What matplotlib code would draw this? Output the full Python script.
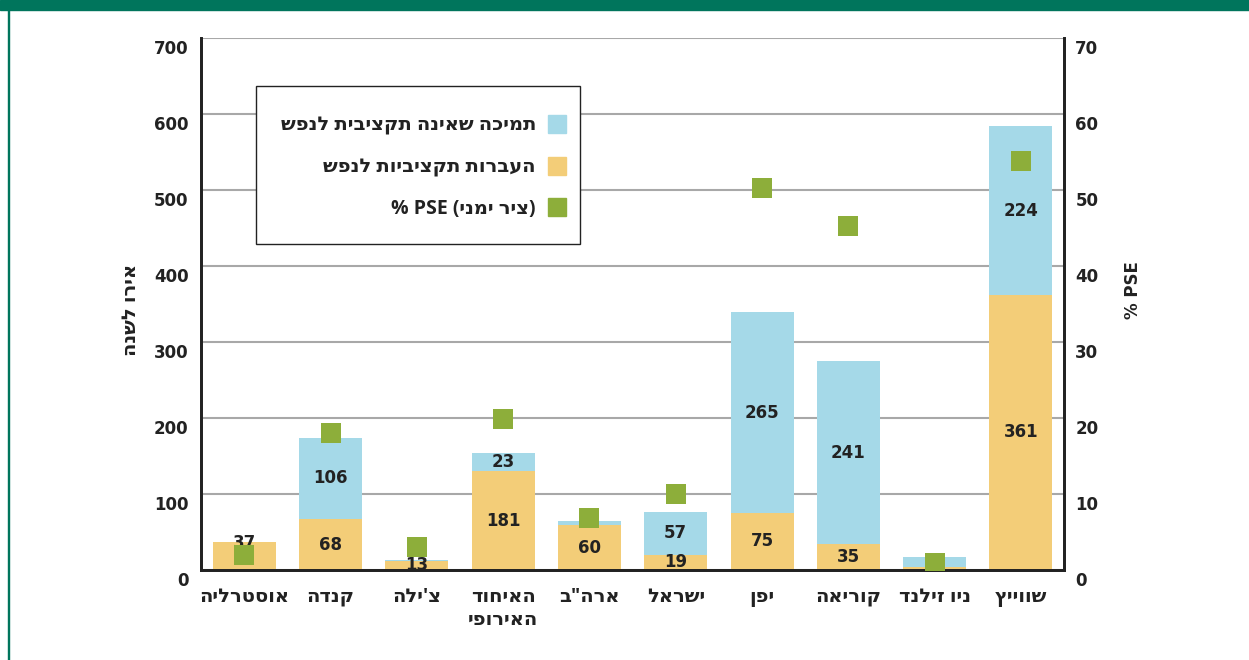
import matplotlib.pyplot as plt
import matplotlib.transforms as mtransforms
from matplotlib.lines import Line2D
from matplotlib.patches import Rectangle
import numpy as np


def heb(s):
    # matplotlib has no bidi support, so write hebrew in visual order
    return s[::-1]


countries = ['אוסטרליה', 'קנדה', "צ'ילה", 'האיחוד\nהאירופי', 'ארה"ב',
             'ישראל', 'יפן', 'קוריאה', 'ניו זילנד', 'שווייץ']
transfers = [37, 67, 12, 130, 59, 20, 75, 34, 4, 362]        # yellow
support = [0, 107, 1, 24, 5, 56, 264, 241, 13, 222]          # blue
pse = [2.0, 18.0, 3.0, 19.9, 6.8, 10.0, 50.2, 45.2, 0.9, 53.8]
bottom_labels = ['37', '68', '13', '181', '60', '19', '75', '35', '', '361']
top_labels = ['', '106', '', '23', '4', '57', '265', '241', '', '224']

yellow = '#F3CD78'
blue = '#A5D9E8'
green = '#8DAE3A'
num_font = ['DejaVu Sans']
heb_font = ['Open Sans', 'DejaVu Sans']

fig = plt.figure(figsize=(12.49, 6.6), dpi=100)
ax = fig.add_axes([0.161, 0.1364, 0.691, 0.806])
ax2 = ax.twinx()

x = np.arange(len(countries))
ax.bar(x, transfers, width=0.73, color=yellow, zorder=2)
ax.bar(x, support, width=0.73, bottom=transfers, color=blue, zorder=2)

for i in range(len(countries)):
    if bottom_labels[i]:
        yb = transfers[i] / 2
        if i == 0:
            yb = transfers[i] - 2
        ax.text(x[i], yb, bottom_labels[i], ha='center', va='center',
                fontsize=12, fontweight='bold', color='#222222',
                family=num_font, zorder=3)
    if top_labels[i]:
        ax.text(x[i], transfers[i] + support[i] / 2, top_labels[i],
                ha='center', va='center', fontsize=12, fontweight='bold',
                color='#222222', family=num_font, zorder=3)

ax2.scatter(x, pse, marker='s', s=200, color=green, zorder=4, linewidths=0)

ax.set_xlim(-0.5, len(countries) - 0.5)
ax.set_ylim(0, 700)
ax2.set_ylim(0, 70)
ax.set_yticks(np.arange(0, 701, 100))
ax2.set_yticks(np.arange(0, 71, 10))
ax.yaxis.grid(True, color='#a8a8a8', lw=1.5, zorder=0)
ax.set_axisbelow(True)

ax.set_xticks(x)
ax.set_xticklabels(['\n'.join(heb(p) for p in c.split('\n')) for c in countries],
                   fontsize=14, fontweight='bold', family=heb_font,
                   color='#222222', linespacing=1.2)
ax.tick_params(axis='x', length=0, pad=12)
ax.tick_params(axis='y', length=0, pad=9)
ax2.tick_params(axis='y', length=0, pad=8)
for lab in ax.get_yticklabels() + ax2.get_yticklabels():
    lab.set_fontsize(12)
    lab.set_fontweight('bold')
    lab.set_color('#222222')
    lab.set_family(num_font)
    lab.set_transform(lab.get_transform() +
                      mtransforms.ScaledTranslation(0, -9 / 100, fig.dpi_scale_trans))

for a in (ax, ax2):
    a.spines['top'].set_visible(False)
    for s in ('left', 'right', 'bottom'):
        a.spines[s].set_linewidth(2)
        a.spines[s].set_color('#222222')

fig.text(0.105, 0.53, heb('אירו לשנה'), rotation=90, ha='center', va='center',
         fontsize=14, fontweight='bold', family=heb_font, color='#222222')
fig.text(0.907, 0.56, '% PSE', rotation=90, ha='center', va='center',
         fontsize=12, fontweight='bold', family=num_font, color='#222222')

# legend: frame drawn separately so the padding can be uneven like the original
ax2.add_patch(Rectangle((0.0637, 0.6128), 0.3755, 0.297, transform=ax2.transAxes,
                        facecolor='white', edgecolor='#222222', lw=1.0, zorder=5))
handles = [Line2D([], [], marker='s', ls='', color=blue, markersize=12.5),
           Line2D([], [], marker='s', ls='', color=yellow, markersize=12.5),
           Line2D([], [], marker='s', ls='', color=green, markersize=12.5)]
labels = [heb('תמיכה שאינה תקציבית לנפש'), heb('העברות תקציביות לנפש'),
          '% PSE (' + heb('ציר ימני') + ')']
leg = ax2.legend(handles, labels, markerfirst=False, loc='upper right',
                 bbox_to_anchor=(0.424, 0.8535), frameon=False,
                 borderpad=0, borderaxespad=0, labelspacing=1.1,
                 handletextpad=0.6, handlelength=1.0,
                 prop={'family': heb_font, 'weight': 'bold', 'size': 14})
leg.set_zorder(6)
for t in leg.get_texts():
    t.set_color('#222222')

# green frame of the page
fig.patches.append(Rectangle((0, 1 - 10 / 660), 1, 10 / 660, transform=fig.transFigure,
                             color='#00755C', zorder=0))
fig.patches.append(Rectangle((8 / 1249, 0), 1.5 / 1249, 1, transform=fig.transFigure,
                             color='#00755C', zorder=0))

fig.savefig('out.png', dpi=100)
